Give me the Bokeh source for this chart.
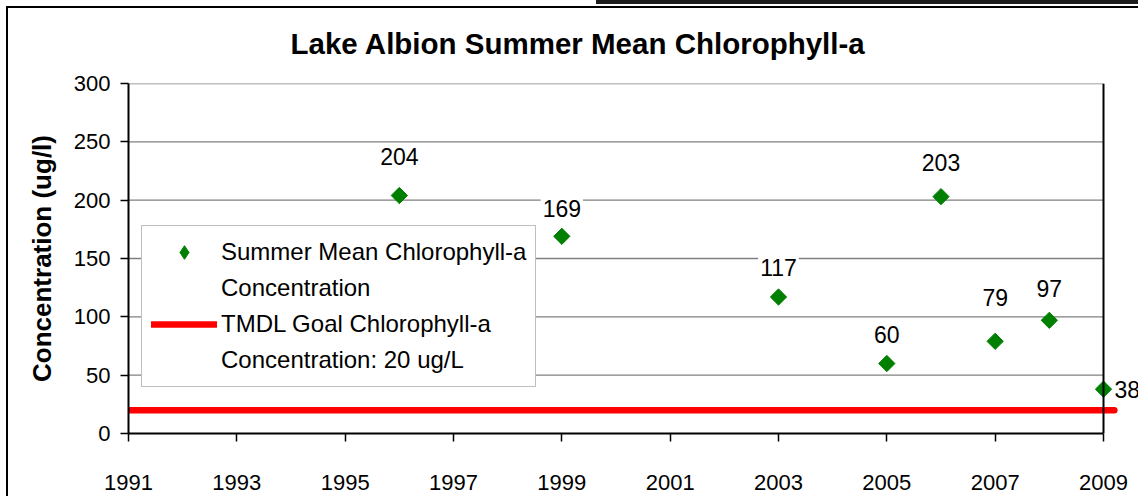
from bokeh.plotting import figure
from bokeh.models import ColumnDataSource, Legend, LegendItem, FixedTicker, Span
from bokeh.core.properties import value
from bokeh.embed import file_html
from bokeh.resources import INLINE

# ---- data ----
years = [1996, 1999, 2003, 2005, 2006, 2007, 2008, 2009]
chl = [204, 169, 117, 60, 203, 79, 97, 38]
goal_value = 20
goal_years = [1991, 2009.2]
x_ticks = [1991, 1993, 1995, 1997, 1999, 2001, 2003, 2005, 2007, 2009]
y_ticks = [0, 50, 100, 150, 200, 250, 300]

title_text = "Lake Albion Summer Mean Chlorophyll-a"
y_label = "Concentration (ug/l)"
series_label = ["Summer Mean Chlorophyll-a", "Concentration"]
goal_label = ["TMDL Goal Chlorophyll-a", "Concentration: 20 ug/L"]

# label lift above each point, in screen pixels (style, as placed in the original)
label_lift_px = [31, 20, 22, 21, 26, 36, 24]

# ---- layout helpers ----
x_min, x_max = x_ticks[0], x_ticks[-1]
y_min, y_max = y_ticks[0], y_ticks[-1]
px_per_year = 975 / (x_max - x_min)
x_end = x_max + 35 / px_per_year

FONT = "Liberation Sans"

p = figure(width=1138, height=496, x_range=(x_min, x_end), y_range=(y_min, y_max),
           output_backend="svg", toolbar_location=None,
           min_border_left=128, min_border_right=0, min_border_top=81, min_border_bottom=63)
p.styles = {"background": (
    "linear-gradient(#1e1e1e,#1e1e1e) 596px 0px / 542px 4px no-repeat, "
    "linear-gradient(#000,#000) 6px 6px / 2px 490px no-repeat, "
    "linear-gradient(#000,#000) 6px 6px / 1132px 2px no-repeat, #ffffff")}
p.border_fill_color = None
p.outline_line_color = None
p.background_fill_color = "white"
p.xgrid.visible = False
p.ygrid.visible = False

# title
p.title.text = title_text
p.title.text_font = FONT
p.title.text_font_size = "29.5px"
p.title.text_font_style = "bold"
p.title.text_color = "black"
p.title.align = "left"
p.title.offset = 162
p.title.standoff = 48

# gridlines (manual, stop at last year)
grid_src = ColumnDataSource(dict(x0=[x_min] * (len(y_ticks) - 1), x1=[x_max] * (len(y_ticks) - 1),
                                 y=y_ticks[1:]))
p.segment(x0="x0", x1="x1", y0="y", y1="y", source=grid_src, line_color="#808080", line_width=1.3)
p.add_layout(Span(location=x_max, dimension="height", line_color="black", line_width=2))

# goal line
goal = p.line(goal_years, [goal_value] * len(goal_years), line_color="#ff0000", line_width=6.5,
              line_cap="round")

# data points (rotated squares = diamonds)
sc = p.scatter(years, chl, marker="square", size=11.5, angle=45, angle_units="deg",
               fill_color="#008000", line_color="#008000")
# legend proxy (NaN point, never drawn in the plot) so the legend shows a diamond
proxy = p.scatter(x=[float("nan")], y=[float("nan")], marker="diamond",
                  fill_color="#008000", line_color="#008000")
# blank renderer for legend continuation lines
blank = p.line(x=[float("nan")], y=[float("nan")], line_alpha=0)

# data labels
lab_src = ColumnDataSource(dict(x=years[:-1], y=chl[:-1], t=[str(v) for v in chl[:-1]],
                                dy=[-(v + 8) for v in label_lift_px]))
p.text(x="x", y="y", text="t", y_offset="dy", source=lab_src, text_align="center",
       text_baseline="middle", text_font=value(FONT), text_font_size="23px",
       text_color="black", background_fill_color="white", padding=2)
p.text(x=years[-1:], y=chl[-1:], text=[str(v) for v in chl[-1:]], text_align="left",
       text_baseline="middle", x_offset=11, text_font=value(FONT), text_font_size="23px",
       text_color="black")

# axes
for ax in (p.xaxis[0], p.yaxis[0]):
    ax.axis_line_width = 2
    ax.axis_line_color = "black"
    ax.major_tick_line_color = "black"
    ax.major_tick_line_width = 1.5
    ax.major_tick_in = 0
    ax.major_tick_out = 8
    ax.minor_tick_line_color = None
    ax.major_label_text_font = FONT
    ax.major_label_text_font_size = "22px"
    ax.major_label_text_color = "black"

p.xaxis.ticker = FixedTicker(ticks=x_ticks)
p.xaxis.bounds = (x_min, x_max)
p.xaxis.major_label_standoff = 33
p.yaxis.ticker = FixedTicker(ticks=y_ticks)
p.yaxis.bounds = (y_min, y_max)
p.yaxis.major_label_standoff = 10
p.yaxis.axis_label = y_label
p.yaxis.axis_label_text_font = FONT
p.yaxis.axis_label_text_font_size = "26px"
p.yaxis.axis_label_text_font_style = "bold"
p.yaxis.axis_label_text_color = "black"
p.yaxis.axis_label_standoff = 14

# legend
legend = Legend(items=[LegendItem(label=series_label[0], renderers=[proxy]),
                       LegendItem(label=series_label[1], renderers=[blank]),
                       LegendItem(label=goal_label[0], renderers=[goal]),
                       LegendItem(label=goal_label[1], renderers=[blank])],
                location=(13, 46), orientation="vertical")
legend.label_text_font = FONT
legend.label_text_font_size = "24px"
legend.label_text_color = "black"
legend.border_line_color = "#808080"
legend.border_line_width = 1.5
legend.background_fill_color = "white"
legend.background_fill_alpha = 1
legend.glyph_width = 66
legend.glyph_height = 34
legend.label_height = 28
legend.label_standoff = 4
legend.padding = 9
legend.spacing = 2
p.add_layout(legend)

open("out.html", "w").write(file_html(p, INLINE))
